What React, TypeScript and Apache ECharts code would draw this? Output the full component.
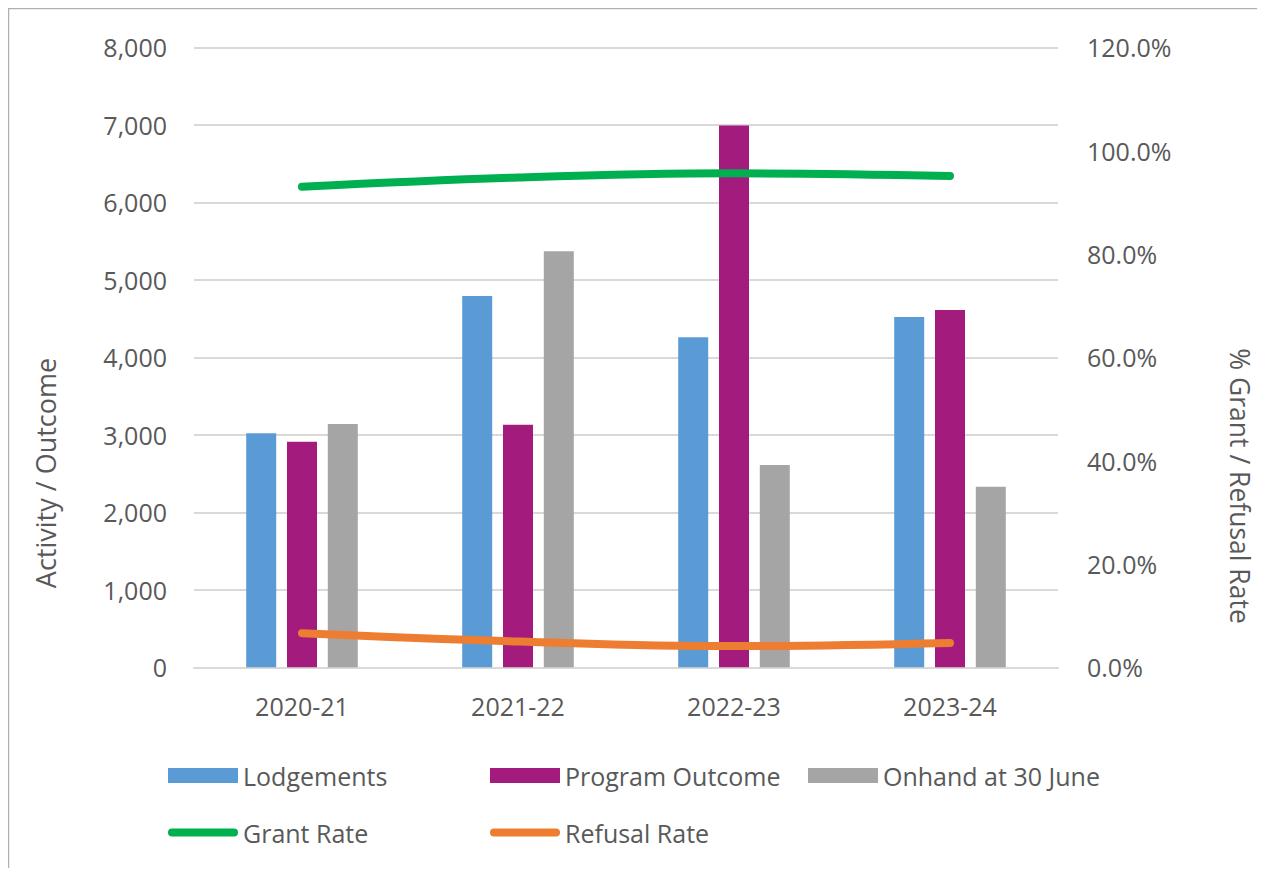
import React, { useEffect, useRef } from "react";
import * as echarts from "echarts";

const categories = ["2020-21", "2021-22", "2022-23", "2023-24"];
const lodgements = [3020, 4790, 4260, 4520];
const programOutcome = [2910, 3130, 6990, 4610];
const onhand = [3140, 5370, 2610, 2330];
const grantRate = [93.0, 94.8, 95.6, 95.1];
const refusalRate = [6.6, 5.0, 4.1, 4.7];
const leftTicks = { min: 0, max: 8000, interval: 1000 };
const rightTicks = { min: 0, max: 120, interval: 20 };

const FONT = "'Open Sans', 'Noto Sans', sans-serif";
const TEXT = "#595959";
const GRID = "#d9d9d9";
const CAPSULE = "path://M4,0 H66 A4,4 0 0 1 66,8 H4 A4,4 0 0 1 4,0 Z";

export default function App() {
  const ref = useRef<HTMLDivElement>(null);
  useEffect(() => {
    if (!ref.current) return;
    const chart = echarts.init(ref.current, undefined, { renderer: "svg" });
    const legendBase = {
      orient: "horizontal",
      padding: 0,
      itemWidth: 70,
      itemHeight: 15,
      selectedMode: false,
      textStyle: { color: TEXT, fontSize: 25, fontFamily: FONT },
    };
    const lineLegend = { ...legendBase, itemHeight: 8, icon: CAPSULE };
    chart.setOption({
      animation: false,
      backgroundColor: "#ffffff",
      textStyle: { fontFamily: FONT },
      grid: { left: 186, right: 207, top: 39.3, bottom: 200.7, containLabel: false },
      xAxis: {
        type: "category",
        data: categories,
        axisLine: { show: true, lineStyle: { color: GRID, width: 2 } },
        axisTick: { show: false },
        axisLabel: { color: TEXT, fontSize: 25, fontFamily: FONT, margin: 26 },
      },
      yAxis: [
        {
          type: "value",
          min: leftTicks.min,
          max: leftTicks.max,
          interval: leftTicks.interval,
          axisLine: { show: false },
          axisTick: { show: false },
          splitLine: { lineStyle: { color: GRID, width: 2 } },
          axisLabel: {
            color: TEXT,
            fontSize: 25,
            fontFamily: FONT,
            margin: 27,
            formatter: (v: number) => v.toLocaleString("en-US"),
          },
        },
        {
          type: "value",
          min: rightTicks.min,
          max: rightTicks.max,
          interval: rightTicks.interval,
          axisLine: { show: false },
          axisTick: { show: false },
          splitLine: { show: false },
          axisLabel: {
            color: TEXT,
            fontSize: 25,
            fontFamily: FONT,
            margin: 29,
            formatter: (v: number) => v.toFixed(1) + "%",
          },
        },
      ],
      legend: [
        { ...legendBase, left: 160, top: 755, icon: "rect", data: ["Lodgements"] },
        { ...legendBase, left: 482, top: 755, icon: "rect", data: ["Program Outcome"] },
        { ...legendBase, left: 800, top: 755, icon: "rect", data: ["Onhand at 30 June"] },
        { ...lineLegend, left: 160, top: 812, data: ["Grant Rate"] },
        { ...lineLegend, left: 482, top: 812, data: ["Refusal Rate"] },
      ],
      series: [
        {
          name: "Lodgements",
          type: "bar",
          data: lodgements,
          barWidth: 30,
          barGap: "36%",
          itemStyle: { color: "#5b9bd5" },
        },
        {
          name: "Program Outcome",
          type: "bar",
          data: programOutcome,
          barWidth: 30,
          barGap: "36%",
          itemStyle: { color: "#a31c7d" },
        },
        {
          name: "Onhand at 30 June",
          type: "bar",
          data: onhand,
          barWidth: 30,
          barGap: "36%",
          itemStyle: { color: "#a5a5a5" },
        },
        {
          name: "Grant Rate",
          type: "line",
          yAxisIndex: 1,
          data: grantRate,
          smooth: 0.4,
          symbol: "none",
          lineStyle: { color: "#00b050", width: 8, cap: "round" },
          itemStyle: { color: "#00b050" },
        },
        {
          name: "Refusal Rate",
          type: "line",
          yAxisIndex: 1,
          data: refusalRate,
          smooth: 0.4,
          symbol: "none",
          lineStyle: { color: "#ed7d31", width: 8, cap: "round" },
          itemStyle: { color: "#ed7d31" },
        },
      ],
      graphic: [
        {
          type: "line",
          shape: { x1: 0, y1: 0.5, x2: 1257, y2: 0.5 },
          style: { stroke: "#b0b0b0", lineWidth: 1.5 },
          silent: true,
        },
        {
          type: "line",
          shape: { x1: 0.5, y1: 0, x2: 0.5, y2: 860 },
          style: { stroke: "#b0b0b0", lineWidth: 1.5 },
          silent: true,
        },
        {
          type: "text",
          x: 37,
          y: 465,
          rotation: Math.PI / 2,
          style: {
            text: "Activity / Outcome",
            fill: TEXT,
            fontSize: 27,
            fontFamily: FONT,
            align: "center",
            verticalAlign: "middle",
          },
        },
        {
          type: "text",
          x: 1232,
          y: 478,
          rotation: -Math.PI / 2,
          style: {
            text: "% Grant / Refusal Rate",
            fill: TEXT,
            fontSize: 26.5,
            fontFamily: FONT,
            align: "center",
            verticalAlign: "middle",
          },
        },
      ],
    });
    return () => chart.dispose();
  }, []);
  return <div ref={ref} style={{ width: 1257, height: 860 }} />;
}
